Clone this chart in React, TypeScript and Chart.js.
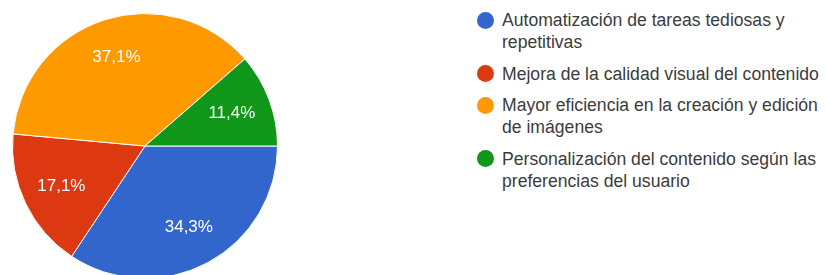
import React, { useEffect, useRef } from "react";
import { Chart, registerables } from "chart.js";

Chart.register(...registerables);

const categories = [
  "Automatización de tareas tediosas y repetitivas",
  "Mejora de la calidad visual del contenido",
  "Mayor eficiencia en la creación y edición de imágenes",
  "Personalización del contenido según las preferencias del usuario",
];
const legendLines = [
  ["Automatización de tareas tediosas y", "repetitivas"],
  ["Mejora de la calidad visual del contenido"],
  ["Mayor eficiencia en la creación y edición", "de imágenes"],
  ["Personalización del contenido según las", "preferencias del usuario"],
];
const values = [34.3, 17.1, 37.1, 11.4];
const valueLabels = ["34,3%", "17,1%", "37,1%", "11,4%"];
const colors = ["#3366cc", "#dc3912", "#ff9900", "#109618"];

const FONT = "'Liberation Sans', Arial, sans-serif";

const sliceLabels = {
  id: "sliceLabels",
  afterDatasetsDraw(chart: any) {
    const ctx = chart.ctx;
    const meta = chart.getDatasetMeta(0);
    ctx.save();
    ctx.fillStyle = "#ffffff";
    ctx.font = `17px ${FONT}`;
    ctx.textAlign = "center";
    ctx.textBaseline = "middle";
    meta.data.forEach((arc: any, i: number) => {
      const p = arc.getProps(["x", "y", "startAngle", "endAngle", "outerRadius"], true);
      const mid = (p.startAngle + p.endAngle) / 2;
      const r = p.outerRadius * 0.7;
      ctx.fillText(valueLabels[i], p.x + Math.cos(mid) * r, p.y + Math.sin(mid) * r);
    });
    ctx.restore();
  },
};

export default function App() {
  const ref = useRef<HTMLCanvasElement>(null);
  useEffect(() => {
    if (!ref.current) return;
    const chart = new Chart(ref.current, {
      type: "pie",
      data: {
        labels: categories,
        datasets: [
          {
            data: values,
            backgroundColor: colors,
            borderColor: "#ffffff",
            borderWidth: 1,
          },
        ],
      },
      options: {
        animation: false,
        responsive: false,
        rotation: 90,
        layout: { padding: 13 },
        plugins: {
          legend: { display: false },
          tooltip: { enabled: false },
        },
      },
      plugins: [sliceLabels],
    });
    return () => chart.destroy();
  }, []);

  return (
    <div
      style={{
        position: "fixed",
        left: 0,
        top: 0,
        width: 825,
        height: 275,
        overflow: "hidden",
        background: "#ffffff",
        fontFamily: FONT,
      }}
    >
      <canvas
        ref={ref}
        width={292}
        height={292}
        style={{ position: "absolute", left: -1, top: 0, width: 292, height: 292 }}
      />
      <div style={{ position: "absolute", left: 477, top: 9 }}>
        {legendLines.map((lines, i) => (
          <div key={i} style={{ position: "relative", paddingLeft: 25, marginBottom: 9.5 }}>
            <span
              style={{
                position: "absolute",
                left: 0,
                top: 2.5,
                width: 17,
                height: 17,
                borderRadius: 8.5,
                background: colors[i],
              }}
            />
            {lines.map((l, j) => (
              <div
                key={j}
                style={{ fontSize: 17.6, lineHeight: "22px", color: "#3c3c3c", whiteSpace: "nowrap" }}
              >
                {l}
              </div>
            ))}
          </div>
        ))}
      </div>
    </div>
  );
}
